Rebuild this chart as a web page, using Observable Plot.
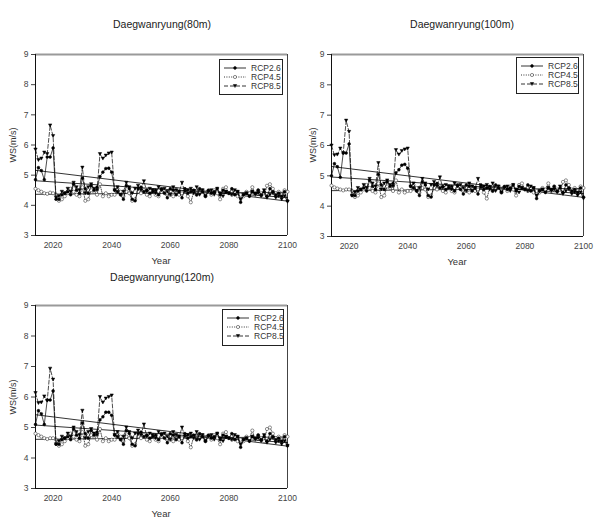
<!DOCTYPE html>
<html><head><meta charset="utf-8">
<script src="https://cdn.jsdelivr.net/npm/d3@7"></script>
<script src="https://cdn.jsdelivr.net/npm/@observablehq/plot@0.6"></script>
<style>
body{margin:0;background:#fff;font-family:"Liberation Sans",Arial,sans-serif;}
#root{position:relative;width:614px;height:527px;overflow:hidden;background:#fff;}
.title{position:absolute;font-size:10.5px;color:#222;transform:translate(-50%,-50%);white-space:nowrap;}
.ylab{position:absolute;font-size:9px;color:#333;transform:translate(-50%,-50%) rotate(-90deg);white-space:nowrap;}
.xlab{position:absolute;font-size:9.5px;color:#333;transform:translate(-50%,-50%);white-space:nowrap;}
.legend{position:absolute;border:1px solid #222;background:#fff;box-sizing:border-box;}
</style></head>
<body><div id="root"></div>
<script>
const years = d3.range(2014, 2101);
const seriesNames = ["RCP2.6", "RCP4.5", "RCP8.5"];
const panelTitles = ["Daegwanryung(80m)", "Daegwanryung(100m)", "Daegwanryung(120m)"];
const yTicks = [3, 4, 5, 6, 7, 8, 9];
const xTicks = [2020, 2040, 2060, 2080, 2100];

// ---- 80m ----
const rcp26_80 = [4.85,5.25,5.15,4.85,5.6,5.6,5.9,4.2,4.2,4.35,
 4.4,4.45,4.35,4.7,4.5,4.4,4.9,4.55,4.4,4.65,
 4.5,4.6,4.95,5.1,5.22,5.23,5.1,4.5,4.45,4.35,
 4.2,4.65,4.55,4.2,4.15,4.55,4.6,4.45,4.5,4.4,
 4.45,4.5,4.35,4.55,4.4,4.25,4.55,4.5,4.35,4.45,
 4.25,4.55,4.4,4.45,4.5,4.35,4.55,4.45,4.3,4.5,
 4.4,4.45,4.55,4.35,4.5,4.45,4.4,4.55,4.35,4.45,
 4.1,4.35,4.4,4.3,4.45,4.4,4.5,4.35,4.45,4.3,
 4.55,4.45,4.35,4.4,4.3,4.45,4.15];
const rcp45_80 = [4.55,4.5,4.45,4.4,4.38,4.42,4.4,4.35,4.15,4.2,
 4.3,4.4,4.55,4.45,4.35,4.3,4.6,4.15,4.2,4.5,
 4.45,4.35,4.7,4.3,4.4,4.3,4.35,4.35,4.55,4.45,
 4.3,4.45,4.4,4.15,4.2,4.45,4.4,4.5,4.35,4.3,
 4.45,4.35,4.3,4.45,4.5,4.4,4.35,4.3,4.5,4.35,
 4.4,4.45,4.3,4.1,4.45,4.35,4.4,4.5,4.3,4.45,
 4.35,4.5,4.4,4.2,4.55,4.6,4.4,4.35,4.45,4.3,
 4.35,4.3,4.45,4.4,4.6,4.35,4.5,4.4,4.3,4.65,
 4.7,4.55,4.4,4.45,4.35,4.5,4.45];
const rcp85_80 = [5.85,5.5,5.55,5.75,5.7,6.65,6.3,4.25,4.3,4.45,
 4.4,4.55,4.45,4.75,4.6,4.5,5.25,4.4,4.6,4.7,
 4.55,4.5,5.7,5.55,5.65,5.72,5.75,4.5,4.6,4.35,
 4.45,4.75,4.6,4.4,4.55,4.65,4.5,4.8,4.45,4.55,
 4.5,4.4,4.6,4.5,4.55,4.45,4.35,4.6,4.5,4.45,
 4.75,4.45,4.5,4.55,4.4,4.6,4.35,4.5,4.3,4.45,
 4.5,4.35,4.55,4.4,4.3,4.45,4.4,4.35,4.5,4.45,
 4.2,4.35,4.4,4.3,4.45,4.35,4.4,4.3,4.5,4.25,
 4.35,4.4,4.25,4.3,4.2,4.3,4.12];

// ---- 100m ----
const rcp26_100 = [5.0,5.4,5.3,4.95,5.75,5.75,6.05,4.35,4.35,4.5,
 4.55,4.6,4.5,4.85,4.65,4.55,5.05,4.7,4.55,4.8,
 4.65,4.75,5.1,5.2,5.35,5.38,5.25,4.65,4.6,4.5,
 4.35,4.8,4.7,4.35,4.3,4.7,4.75,4.6,4.65,4.55,
 4.6,4.65,4.5,4.7,4.55,4.4,4.7,4.65,4.5,4.6,
 4.4,4.7,4.55,4.6,4.65,4.5,4.7,4.6,4.45,4.65,
 4.55,4.6,4.7,4.5,4.65,4.6,4.55,4.7,4.5,4.6,
 4.25,4.5,4.55,4.45,4.6,4.55,4.65,4.5,4.6,4.45,
 4.7,4.6,4.5,4.55,4.45,4.6,4.3];
const rcp45_100 = [4.68,4.62,4.58,4.55,4.52,4.55,4.55,4.5,4.3,4.35,
 4.45,4.55,4.7,4.6,4.5,4.45,4.75,4.3,4.35,4.65,
 4.6,4.5,4.85,4.45,4.55,4.45,4.5,4.5,4.7,4.6,
 4.45,4.6,4.55,4.3,4.35,4.6,4.55,4.65,4.5,4.45,
 4.6,4.5,4.45,4.6,4.65,4.55,4.5,4.45,4.65,4.5,
 4.55,4.6,4.45,4.25,4.6,4.5,4.55,4.65,4.45,4.6,
 4.5,4.65,4.55,4.35,4.7,4.75,4.55,4.5,4.6,4.45,
 4.5,4.45,4.6,4.55,4.75,4.5,4.65,4.55,4.45,4.8,
 4.85,4.7,4.55,4.6,4.5,4.65,4.6];
const rcp85_100 = [6.0,5.68,5.7,5.9,5.75,6.82,6.45,4.35,4.45,4.6,
 4.55,4.7,4.6,4.9,4.75,4.65,5.42,4.55,4.75,4.85,
 4.7,4.65,5.85,5.7,5.82,5.87,5.9,4.65,4.75,4.5,
 4.6,4.9,4.75,4.55,4.7,4.8,4.65,4.95,4.6,4.7,
 4.65,4.55,4.75,4.65,4.7,4.6,4.5,4.75,4.65,4.6,
 4.9,4.6,4.65,4.7,4.55,4.75,4.5,4.65,4.45,4.6,
 4.65,4.5,4.7,4.55,4.45,4.6,4.55,4.5,4.65,4.6,
 4.35,4.5,4.55,4.45,4.6,4.5,4.55,4.45,4.65,4.4,
 4.5,4.55,4.4,4.45,4.35,4.45,4.25];

// ---- 120m ----
const rcp26_120 = [5.1,5.55,5.45,5.1,5.9,5.9,6.2,4.45,4.45,4.6,
 4.65,4.7,4.6,4.95,4.75,4.65,5.15,4.8,4.65,4.9,
 4.75,4.85,5.25,5.35,5.5,5.5,5.4,4.75,4.7,4.6,
 4.45,4.9,4.8,4.45,4.4,4.8,4.85,4.7,4.75,4.65,
 4.7,4.75,4.6,4.8,4.65,4.5,4.8,4.75,4.6,4.7,
 4.5,4.8,4.65,4.7,4.75,4.6,4.8,4.7,4.55,4.75,
 4.65,4.7,4.8,4.6,4.75,4.7,4.65,4.8,4.6,4.7,
 4.35,4.6,4.65,4.55,4.7,4.65,4.75,4.6,4.7,4.55,
 4.8,4.7,4.6,4.65,4.55,4.7,4.4];
const rcp45_120 = [4.8,4.75,4.7,4.65,4.62,4.65,4.65,4.6,4.4,4.45,
 4.55,4.65,4.8,4.7,4.6,4.55,4.85,4.4,4.45,4.75,
 4.7,4.6,4.95,4.55,4.65,4.55,4.6,4.6,4.8,4.7,
 4.55,4.7,4.65,4.4,4.45,4.7,4.65,4.75,4.6,4.55,
 4.7,4.6,4.55,4.7,4.75,4.65,4.6,4.55,4.75,4.6,
 4.65,4.7,4.55,4.35,4.7,4.6,4.65,4.75,4.55,4.7,
 4.6,4.75,4.65,4.45,4.8,4.85,4.65,4.6,4.7,4.55,
 4.6,4.55,4.7,4.65,4.9,4.6,4.75,4.65,4.55,4.95,
 5.0,4.8,4.65,4.7,4.6,4.75,4.7];
const rcp85_120 = [6.13,5.8,5.82,6.02,5.88,6.93,6.57,4.45,4.55,4.7,
 4.65,4.8,4.7,5.0,4.85,4.75,5.55,4.65,4.85,4.95,
 4.8,4.75,6.0,5.82,5.95,6.0,6.05,4.75,4.85,4.6,
 4.7,5.0,4.85,4.65,4.8,4.9,4.75,5.1,4.7,4.8,
 4.75,4.65,4.85,4.75,4.8,4.7,4.6,4.85,4.75,4.7,
 5.0,4.7,4.75,4.8,4.65,4.85,4.6,4.75,4.55,4.7,
 4.75,4.6,4.8,4.65,4.55,4.7,4.65,4.6,4.75,4.7,
 4.45,4.6,4.65,4.55,4.7,4.6,4.65,4.55,4.75,4.5,
 4.6,4.65,4.5,4.55,4.45,4.55,4.4];

const panelSeries = [
  [rcp26_80, rcp45_80, rcp85_80],
  [rcp26_100, rcp45_100, rcp85_100],
  [rcp26_120, rcp45_120, rcp85_120]
];

// custom downward triangle symbol
const triDown = {
  draw(ctx, size) {
    const s = Math.sqrt(size) * 1.05;
    const h = s * 0.9;
    ctx.moveTo(-s / 2, -h / 2);
    ctx.lineTo(s / 2, -h / 2);
    ctx.lineTo(0, h / 2);
    ctx.closePath();
  }
};

const styles = {
  "RCP2.6": {dash: null, fill: "black", stroke: "black", symbol: "circle", r: 1.4},
  "RCP4.5": {dash: "1,1.4", fill: "white", stroke: "#222", symbol: "circle", r: 1.6},
  "RCP8.5": {dash: "4,2", fill: "black", stroke: "black", symbol: triDown, r: 1.8}
};

const layouts = [
  {left: 0, top: 40, mL: 35, mR: 13, mT: 14, mB: 35, leg: [219, 59, 64, 36], titleXY: [162, 24]},
  {left: 300, top: 40, mL: 31, mR: 17, mT: 14, mB: 34, leg: [516, 57, 63, 37], titleXY: [462, 24]},
  {left: 0, top: 291, mL: 35, mR: 13, mT: 14, mB: 33, leg: [222, 309, 62, 37], titleXY: [162, 277]}
];

const root = document.getElementById("root");
const W = 300, H = 230;

function addText(cls, text, x, y) {
  const d = document.createElement("div");
  d.className = cls; d.textContent = text;
  d.style.left = x + "px"; d.style.top = y + "px";
  root.appendChild(d);
}

layouts.forEach((L, p) => {
  const rows = [];
  seriesNames.forEach((name, k) => {
    panelSeries[p][k].forEach((v, i) => rows.push({year: years[i], ws: v, series: name}));
  });
  const marks = [];
  marks.push(Plot.ruleY([9], {stroke: "#9a9a9a", strokeWidth: 2}));
  marks.push(Plot.ruleX([2100], {stroke: "#444", strokeWidth: 1}));
  marks.push(Plot.ruleX([2014], {stroke: "#111", strokeWidth: 1}));
  marks.push(Plot.ruleY([3], {stroke: "#111", strokeWidth: 1}));
  marks.push(Plot.linearRegressionY(rows, {x: "year", y: "ws", z: "series", ci: 0, stroke: "black", strokeWidth: 0.8}));
  ["RCP4.5", "RCP2.6", "RCP8.5"].forEach(name => {
    const st = styles[name];
    const sub = rows.filter(d => d.series === name);
    marks.push(Plot.line(sub, {x: "year", y: "ws", stroke: "black", strokeWidth: 0.7, strokeDasharray: st.dash}));
    marks.push(Plot.dot(sub, {x: "year", y: "ws", r: st.r, symbol: st.symbol, fill: st.fill, stroke: st.stroke, strokeWidth: 0.5}));
  });
  const chart = Plot.plot({
    width: W, height: H,
    marginLeft: L.mL, marginRight: L.mR, marginTop: L.mT, marginBottom: L.mB,
    style: {fontFamily: '"Liberation Sans", Arial, sans-serif', fontSize: "8.5px", color: "#444", background: "white"},
    x: {domain: [2014, 2100], ticks: xTicks, tickFormat: d => String(d), tickSize: 0, tickPadding: 6, label: null},
    y: {domain: [3, 9], ticks: yTicks, tickFormat: d => String(d), tickSize: 4, tickPadding: 3, label: null},
    marks
  });
  chart.style.position = "absolute";
  chart.style.left = L.left + "px";
  chart.style.top = L.top + "px";
  root.appendChild(chart);

  const fx0 = L.left + L.mL, fx1 = L.left + W - L.mR;
  const fy0 = L.top + L.mT, fy1 = L.top + H - L.mB;
  addText("title", panelTitles[p], L.titleXY[0], L.titleXY[1]);
  addText("ylab", "WS(m/s)", L.left + 13, (fy0 + fy1) / 2);
  addText("xlab", "Year", (fx0 + fx1) / 2, fy1 + 25);

  const [lx, ly, lw, lh] = L.leg;
  const leg = document.createElement("div");
  leg.className = "legend";
  leg.style.left = lx + "px"; leg.style.top = ly + "px";
  leg.style.width = lw + "px"; leg.style.height = lh + "px";
  const ns = "http://www.w3.org/2000/svg";
  const svg = document.createElementNS(ns, "svg");
  svg.setAttribute("width", lw - 2); svg.setAttribute("height", lh - 2);
  svg.style.display = "block";
  seriesNames.forEach((name, k) => {
    const st = styles[name];
    const cy = 8 + k * 9;
    const ln = document.createElementNS(ns, "line");
    ln.setAttribute("x1", 4); ln.setAttribute("x2", 26);
    ln.setAttribute("y1", cy); ln.setAttribute("y2", cy);
    ln.setAttribute("stroke", "black"); ln.setAttribute("stroke-width", 0.8);
    if (st.dash) ln.setAttribute("stroke-dasharray", st.dash);
    svg.appendChild(ln);
    const path = document.createElementNS(ns, "path");
    const size = st.r * st.r * Math.PI;
    const sym = st.symbol === "circle" ? d3.symbolCircle : st.symbol;
    path.setAttribute("d", d3.symbol(sym, size)());
    path.setAttribute("transform", `translate(15,${cy})`);
    path.setAttribute("fill", st.fill); path.setAttribute("stroke", st.stroke);
    path.setAttribute("stroke-width", 0.5);
    svg.appendChild(path);
    const tx = document.createElementNS(ns, "text");
    tx.setAttribute("x", 31); tx.setAttribute("y", cy + 3);
    tx.setAttribute("font-size", "8.5px");
    tx.setAttribute("fill", "#333");
    tx.setAttribute("font-family", '"Liberation Sans", Arial, sans-serif');
    tx.textContent = name;
    svg.appendChild(tx);
  });
  leg.appendChild(svg);
  root.appendChild(leg);
});
</script></body></html>
